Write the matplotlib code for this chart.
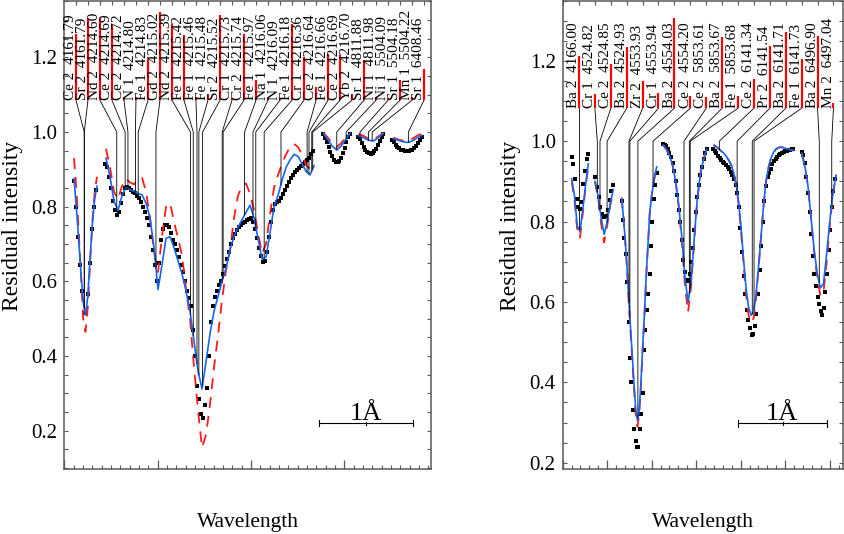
import numpy as np
import matplotlib
matplotlib.use("Agg")
from matplotlib import pyplot as plt
from matplotlib.ticker import MultipleLocator, FormatStrFormatter

plt.rcParams['font.family'] = ['Liberation Serif', 'DejaVu Serif']

# ---------------- left panel: identified lines ----------------
left_species = ["Ce 2", "Sr 2", "Nd 2", "Ce 2", "Ce 2", "N 1", "Fe 1", "Gd 2", "Nd 2", "Fe 1",
                "Fe 1", "Fe 1", "Sr 2", "Cr 1", "Cr 2", "Fe 1", "Na 1", "N 1", "Fe 1", "Cr 1",
                "Ce 2", "Fe 1", "Ce 2", "Yb 2", "Sr 1", "Ni 1", "Ni 1", "Sr 1", "Mn 1", "Sr 1"]
left_waves = [4161.79, 4161.79, 4214.60, 4214.69, 4214.72, 4214.80, 4214.83, 4215.02, 4215.39, 4215.42,
              4215.46, 4215.48, 4215.52, 4215.73, 4215.74, 4215.97, 4216.06, 4216.09, 4216.18, 4216.36,
              4216.64, 4216.66, 4216.69, 4216.70, 4811.88, 4811.98, 5504.09, 5504.18, 5504.22, 6408.46]
# height of the red strength bars
left_strength = [1.263, 1.304, 1.304, 1.286, 1.095, 1.094, 1.196, 1.321, 1.29, 1.259,
                 1.095, 1.10, 1.312, 1.09, 1.263, 1.138, 1.09, 1.092, 1.29, 1.20,
                 1.12, 1.21, 1.205, 1.098, 1.194, 1.095, 1.09, 1.138, 1.095, 1.17]
# each spectral window: reference wavelength and where it sits on the plot (A from left edge)
left_ref = [4161.79, 4214.60, 4811.88, 5504.09, 6408.46]
left_pos = [0.214, 0.562, 2.920, 3.169, 3.687]

# observed spectrum per window
obs_l1 = [0.87, 0.80, 0.72, 0.645, 0.575, 0.515, 0.515, 0.565, 0.65, 0.74, 0.80, 0.845]
obs_l2 = [0.915, 0.905, 0.88, 0.85, 0.815, 0.79, 0.777, 0.785, 0.81, 0.835,
          0.85, 0.853, 0.85, 0.845, 0.84, 0.836, 0.83, 0.822, 0.812, 0.80,
          0.785, 0.77, 0.75, 0.72, 0.685, 0.645, 0.60, 0.65, 0.71, 0.74,
          0.75, 0.75, 0.745, 0.73, 0.712, 0.70, 0.685, 0.665, 0.645, 0.625,
          0.60, 0.575, 0.555, 0.535, 0.47, 0.40, 0.32, 0.285, 0.245, 0.235,
          0.27, 0.315, 0.40, 0.49, 0.535, 0.558, 0.575, 0.59, 0.60, 0.62,
          0.64, 0.66, 0.68, 0.70, 0.715, 0.728, 0.738, 0.746, 0.752, 0.756,
          0.76, 0.764, 0.767, 0.769, 0.76, 0.74, 0.715, 0.69, 0.668, 0.652,
          0.655, 0.68, 0.72, 0.76, 0.79, 0.808, 0.812, 0.815, 0.822, 0.835,
          0.845, 0.856, 0.866, 0.876, 0.885, 0.893, 0.898, 0.903, 0.908, 0.915,
          0.92, 0.925, 0.93, 0.94, 0.948]
obs_l3 = [0.996, 0.985, 0.972, 0.96, 0.947, 0.935, 0.926, 0.921, 0.92, 0.922,
          0.93, 0.943, 0.957, 0.972, 0.986, 0.996]
obs_l4 = [0.987, 0.98, 0.97, 0.96, 0.952, 0.946, 0.943, 0.942, 0.943, 0.948,
          0.955, 0.965, 0.976, 0.987, 0.996]
obs_l5 = [0.978, 0.972, 0.966, 0.96, 0.956, 0.953, 0.951, 0.95, 0.95, 0.95,
          0.951, 0.953, 0.957, 0.962, 0.97, 0.978, 0.987]
obs_l_range = [(0.104, 0.340), (0.436, 2.665), (2.776, 3.062), (3.151, 3.419), (3.509, 3.831)]

# synthetic spectra (blue solid, red dashed)
fit_l1 = [0.875, 0.80, 0.715, 0.625, 0.545, 0.51, 0.56, 0.66, 0.755, 0.82, 0.855]
alt_l1 = [0.93, 0.85, 0.74, 0.62, 0.50, 0.465, 0.53, 0.65, 0.76, 0.84, 0.88]
fit_l2 = [0.93, 0.88, 0.815, 0.79, 0.83, 0.852, 0.845, 0.842, 0.835, 0.832,
          0.81, 0.77, 0.69, 0.578, 0.645, 0.715, 0.72, 0.69, 0.655, 0.62,
          0.575, 0.52, 0.44, 0.36, 0.312, 0.385, 0.46, 0.52, 0.56, 0.60,
          0.635, 0.685, 0.72, 0.745, 0.765, 0.785, 0.804, 0.77, 0.715, 0.66,
          0.665, 0.73, 0.80, 0.83, 0.87, 0.905, 0.925, 0.94, 0.935, 0.915,
          0.895, 0.885, 0.91]
alt_l2 = [0.955, 0.905, 0.84, 0.82, 0.855, 0.875, 0.865, 0.86, 0.872, 0.878,
          0.84, 0.77, 0.68, 0.625, 0.72, 0.80, 0.81, 0.76, 0.715, 0.67,
          0.58, 0.50, 0.37, 0.255, 0.155, 0.19, 0.27, 0.37, 0.455, 0.55,
          0.63, 0.685, 0.77, 0.83, 0.855, 0.862, 0.835, 0.79, 0.73, 0.675,
          0.70, 0.78, 0.85, 0.885, 0.915, 0.94, 0.96, 0.968, 0.96, 0.94,
          0.912, 0.90, 0.91]
fit_l3 = [0.996, 0.98, 0.962, 0.952, 0.962, 0.98, 0.996]
alt_l3 = [0.998, 0.985, 0.97, 0.96, 0.97, 0.985, 0.998]
fit_l4 = [0.99, 0.985, 0.978, 0.976, 0.985, 0.996]
alt_l4 = [0.995, 0.99, 0.982, 0.98, 0.988, 0.998]
fit_l5 = [0.982, 0.978, 0.974, 0.972, 0.976, 0.984, 0.991]
alt_l5 = [0.985, 0.98, 0.977, 0.976, 0.982, 0.99, 0.996]
fit_l_range = [(0.104, 0.350), (0.447, 2.676), (2.776, 3.062), (3.151, 3.419), (3.526, 3.831)]

# ---------------- right panel: identified lines ----------------
right_species = ["Ba 2", "Cr 1", "Ce 2", "Ba 2", "Zr 2", "Cr 1", "Ba 2", "Ce 2", "Ce 2",
                 "Ba 2", "Fe 1", "Ce 2", "Pr 2", "Ba 2", "Fe 1", "Ba 2", "Mn 2"]
right_waves = [4166.00, 4524.82, 4524.85, 4524.93, 4553.93, 4553.94, 4554.03, 4554.20, 5853.61,
               5853.67, 5853.68, 6141.34, 6141.54, 6141.71, 6141.73, 6496.90, 6497.04]
right_strength = [1.212, 1.118, 1.193, 1.235, 1.15, 1.12, 1.307, 1.113, 1.11,
                  1.26, 1.113, 1.155, 1.238, 1.272, 1.205, 1.262, 1.095]
right_ref = [4166.00, 4524.85, 4553.93, 5853.61, 6141.34, 6496.90]
right_pos = [0.183, 0.419, 0.745, 1.363, 1.760, 2.883]

obs_r1 = [0.96, 0.944, 0.906, 0.857, 0.836, 0.832, 0.849, 0.894, 0.927, 0.956, 0.969]
obs_r2 = [0.911, 0.886, 0.86, 0.835, 0.818, 0.811, 0.815, 0.83, 0.853, 0.875, 0.89]
obs_r3 = [0.85, 0.805, 0.76, 0.72, 0.65, 0.55, 0.46, 0.40, 0.33, 0.285,
          0.255, 0.238, 0.24, 0.285, 0.32, 0.374, 0.48, 0.53, 0.58, 0.62,
          0.67, 0.74, 0.80, 0.855, 0.89, 0.92]
obs_r4 = [0.993, 0.991, 0.988, 0.98, 0.97, 0.96, 0.945, 0.925, 0.90, 0.865,
          0.83, 0.80, 0.755, 0.705, 0.675, 0.655, 0.653, 0.67, 0.70, 0.735,
          0.78, 0.825, 0.86, 0.89, 0.915, 0.935, 0.955, 0.97, 0.98]
obs_r5 = [0.981, 0.976, 0.97, 0.963, 0.957, 0.953, 0.949, 0.945, 0.941, 0.936,
          0.93, 0.924, 0.915, 0.905, 0.89, 0.87, 0.835, 0.785, 0.725, 0.665,
          0.62, 0.58, 0.555, 0.535, 0.517, 0.52, 0.54, 0.57, 0.62, 0.68,
          0.74, 0.80, 0.85, 0.888, 0.91, 0.922, 0.932, 0.943, 0.95, 0.956,
          0.961, 0.965, 0.968, 0.971, 0.973, 0.975, 0.976, 0.977, 0.978, 0.98,
          0.981]
obs_r6 = [0.973, 0.965, 0.945, 0.91, 0.87, 0.825, 0.77, 0.715, 0.67, 0.64,
          0.612, 0.594, 0.578, 0.568, 0.585, 0.625, 0.67, 0.73, 0.78, 0.835,
          0.875, 0.905]
obs_r_range = [(0.101, 0.288), (0.363, 0.569), (0.663, 1.056), (1.130, 1.618),
               (1.692, 2.591), (2.685, 3.060)]

fit_r1 = [0.906, 0.865, 0.79, 0.775, 0.83, 0.89, 0.944]
alt_r1 = [0.90, 0.855, 0.78, 0.76, 0.82, 0.885, 0.94]
fit_r2 = [0.90, 0.865, 0.81, 0.768, 0.80, 0.845, 0.88]
alt_r2 = [0.90, 0.86, 0.795, 0.748, 0.79, 0.84, 0.875]
fit_r3 = [0.857, 0.81, 0.755, 0.69, 0.61, 0.54, 0.47, 0.40, 0.335, 0.305,
          0.33, 0.40, 0.49, 0.57, 0.665, 0.74, 0.82, 0.86, 0.89, 0.915, 0.936]
alt_r3 = [0.86, 0.81, 0.75, 0.685, 0.60, 0.53, 0.46, 0.385, 0.32, 0.29,
          0.32, 0.39, 0.48, 0.565, 0.66, 0.74, 0.82, 0.86, 0.89, 0.915, 0.935]
fit_r4 = [0.99, 0.98, 0.965, 0.94, 0.90, 0.84, 0.76, 0.66, 0.60, 0.65,
          0.76, 0.86, 0.92, 0.955, 0.98]
alt_r4 = [0.99, 0.98, 0.965, 0.94, 0.90, 0.835, 0.75, 0.64, 0.575, 0.64,
          0.755, 0.855, 0.92, 0.955, 0.98]
fit_r5 = [0.99, 0.986, 0.98, 0.975, 0.97, 0.962, 0.952, 0.94, 0.92, 0.89,
          0.845, 0.78, 0.70, 0.63, 0.585, 0.567, 0.575, 0.62, 0.69, 0.765,
          0.84, 0.90, 0.935, 0.958, 0.972, 0.98, 0.984, 0.985, 0.984, 0.982,
          0.98, 0.978, 0.977]
alt_r5 = [0.99, 0.986, 0.98, 0.975, 0.97, 0.962, 0.952, 0.94, 0.92, 0.89,
          0.84, 0.77, 0.69, 0.615, 0.565, 0.548, 0.56, 0.61, 0.685, 0.76,
          0.84, 0.90, 0.935, 0.958, 0.972, 0.98, 0.984, 0.985, 0.984, 0.982,
          0.98, 0.978, 0.977]
fit_r6 = [0.97, 0.94, 0.89, 0.81, 0.73, 0.67, 0.635, 0.645, 0.72, 0.80, 0.87, 0.915]
alt_r6 = [0.97, 0.94, 0.89, 0.81, 0.725, 0.66, 0.615, 0.625, 0.70, 0.79, 0.865, 0.915]
fit_r_range = [(0.101, 0.288), (0.363, 0.569), (0.663, 1.056), (1.130, 1.618),
               (1.700, 2.591), (2.685, 3.071)]

BLUE = '#1466ee'
RED = '#ff1a1a'


def draw_panel(ax, obs, obs_range, fit, alt, fit_range, species, waves, strength,
               refs, pos, bar0, bar_step, base, gap):
    fit_x = []
    for y, (a, b) in zip(obs, obs_range):
        ax.plot(np.linspace(a, b, len(y)), y, 's', color='black', ms=3.4, mew=0, zorder=2)
    for yf, ya, (a, b) in zip(fit, alt, fit_range):
        xs = np.linspace(a, b, len(yf))
        fit_x.append(xs)
        ax.plot(xs, ya, color=RED, lw=1.3, ls=(0, (6, 4.5)), zorder=3)
        ax.plot(xs, yf, color=BLUE, lw=1.2, zorder=4)

    for k, (sp, w, top) in enumerate(zip(species, waves, strength)):
        bx = bar0 + k * bar_step
        seg = int(np.argmin(np.abs(np.array(refs) - w)))
        lx = pos[seg] + (w - refs[seg])
        yend = np.interp(lx, fit_x[seg], fit[seg])
        ax.text(bx - gap, base, f"{sp}  {w:.2f}", rotation=90, rotation_mode='anchor',
                ha='left', va='baseline', fontsize=11, zorder=6)
        ax.plot([bx, bx], [base, top], color='red', lw=1.6, solid_capstyle='butt', zorder=6)
        ax.plot([bx, lx, lx], [base, 1.0, yend], color='black', lw=0.6, zorder=5)


def style_axes(ax, xmax, ylo, yhi, major, bar0, bar_step):
    ax.set_xlim(0, xmax)
    ax.set_ylim(ylo, yhi)
    ax.xaxis.set_major_locator(MultipleLocator(major))
    ax.xaxis.set_minor_locator(MultipleLocator(0.1))
    ax.yaxis.set_minor_locator(MultipleLocator(0.05))
    ax.yaxis.set_major_formatter(FormatStrFormatter('%.1f'))
    ax.set_yticks(np.arange(0.2, 1.21, 0.2))
    ax.tick_params(axis='x', which='major', direction='in', length=6.5, width=0.9,
                   color='0.35', labelbottom=False)
    ax.tick_params(axis='x', which='minor', direction='in', length=3.2, width=0.8, color='0.35')
    ax.tick_params(axis='y', which='both', direction='in', length=3.2, width=0.8,
                   color='0.35', left=True, right=True, labelsize=15, pad=5)
    for sp in ax.spines.values():
        sp.set_color('0.35')
        sp.set_linewidth(1.1)
    top = ax.secondary_xaxis('top')
    ticks = bar0 + bar_step * np.arange(-2, 40)
    top.set_xticks(ticks[(ticks > 0) & (ticks < xmax)])
    top.tick_params(direction='in', length=3.2, width=0.8, color='0.35', labeltop=False)
    top.spines['top'].set_visible(False)


def scale_bar(ax, x0, y, txt_x):
    ax.plot([x0, x0 + 1.0], [y, y], color='black', lw=0.8)
    for xx, d in ((x0, 0.008), (x0 + 1.0, 0.008), (x0 + 0.5, 0.004)):
        ax.plot([xx, xx], [y - d, y + d], color='black', lw=0.8)
    ax.text(txt_x, y + 0.008, "1Å", ha='center', va='baseline', fontsize=19)


fig = plt.figure(figsize=(8.45, 5.34), dpi=100)
ax1 = fig.add_axes([0.0761, 0.1212, 0.434, 0.8778])
ax2 = fig.add_axes([0.6659, 0.1212, 0.3321, 0.8778])

draw_panel(ax1, [obs_l1, obs_l2, obs_l3, obs_l4, obs_l5], obs_l_range,
           [fit_l1, fit_l2, fit_l3, fit_l4, fit_l5], [alt_l1, alt_l2, alt_l3, alt_l4, alt_l5],
           fit_l_range, left_species, left_waves, left_strength, left_ref, left_pos,
           bar0=0.125, bar_step=0.1286, base=1.085, gap=0.022)
style_axes(ax1, 3.93, 0.097, 1.352, 1.0, 0.125, 0.1286)
scale_bar(ax1, 2.733, 0.22, 3.233)

draw_panel(ax2, [obs_r1, obs_r2, obs_r3, obs_r4, obs_r5, obs_r6], obs_r_range,
           [fit_r1, fit_r2, fit_r3, fit_r4, fit_r5, fit_r6],
           [alt_r1, alt_r2, alt_r3, alt_r4, alt_r5, alt_r6],
           fit_r_range, right_species, right_waves, right_strength, right_ref, right_pos,
           bar0=0.183, bar_step=0.1787, base=1.082, gap=0.02)
style_axes(ax2, 3.153, 0.1836, 1.35, 0.5, 0.183, 0.1787)
scale_bar(ax2, 1.97, 0.298, 2.46)

fig.text(13 / 845, 1 - 226 / 534, "Residual intensity", rotation=90, ha='center', va='center', fontsize=17)
fig.text(511 / 845, 1 - 226 / 534, "Residual intensity", rotation=90, ha='center', va='center', fontsize=17)
fig.text(248 / 845, 1 - 522 / 534, "Wavelength", ha='center', va='center', fontsize=15.5)
fig.text(703 / 845, 1 - 522 / 534, "Wavelength", ha='center', va='center', fontsize=15.5)

fig.savefig("out.png", dpi=100)
